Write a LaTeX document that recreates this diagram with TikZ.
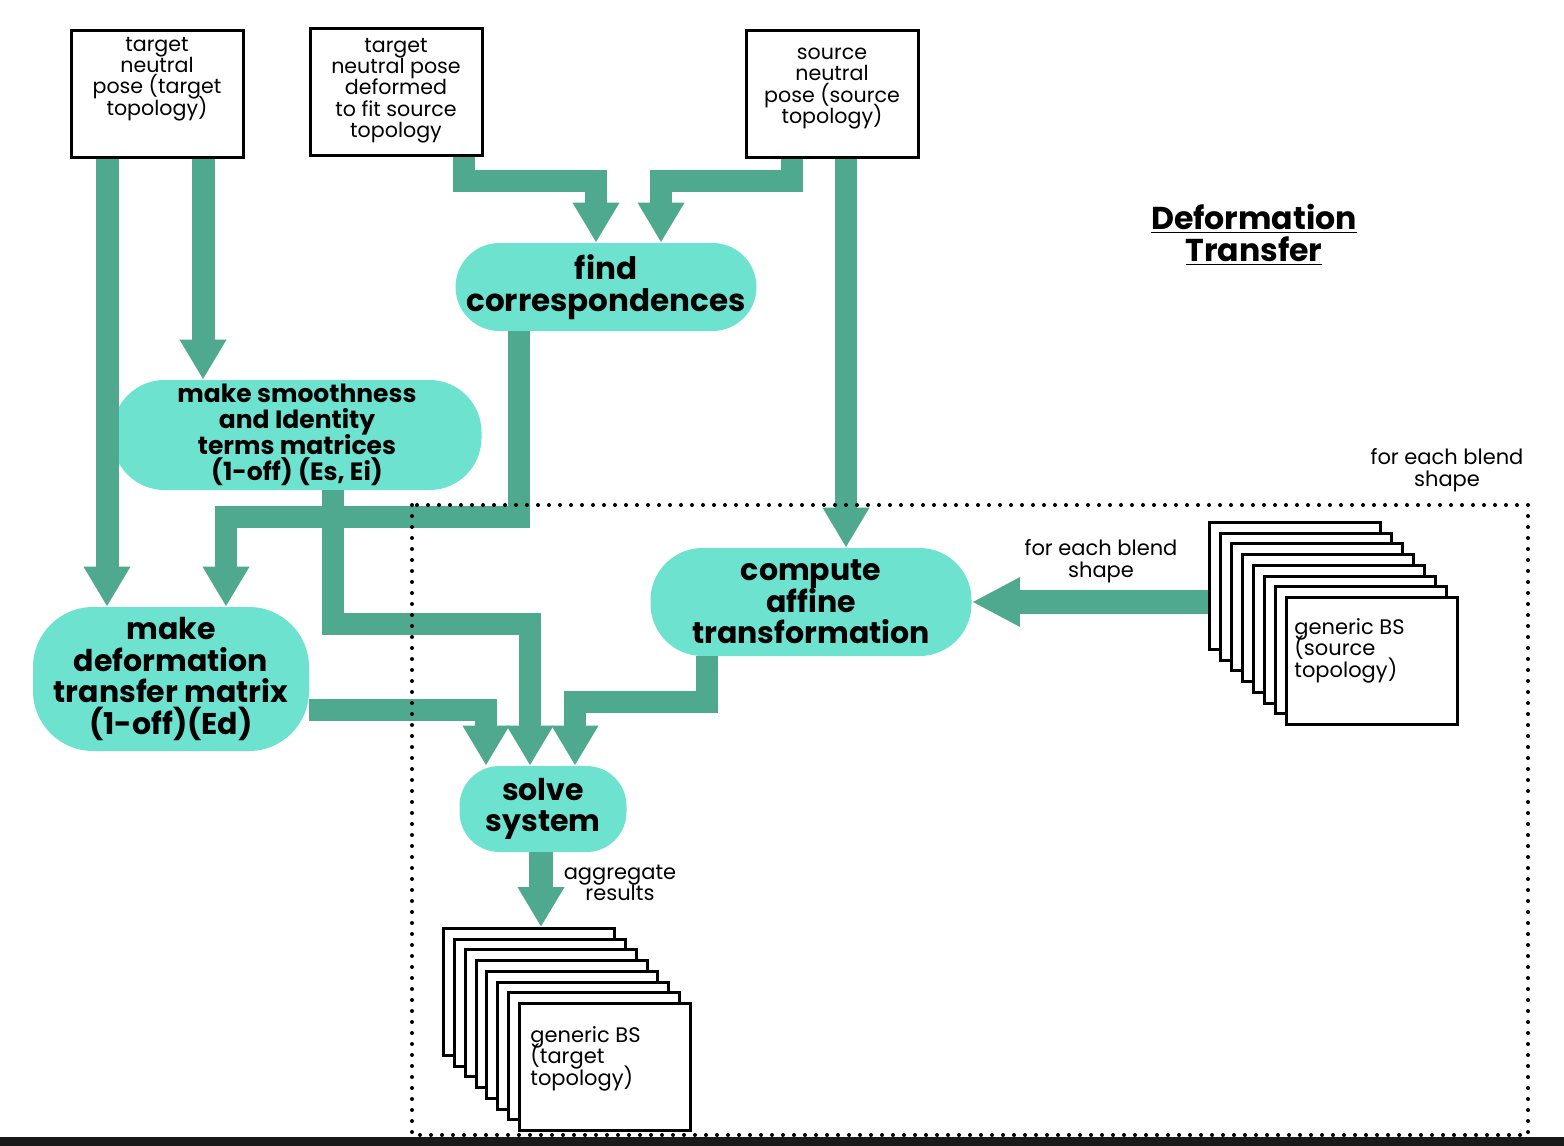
\documentclass[tikz,border=0pt]{standalone}
\usepackage{fontspec}
\setmainfont{Poppins}
\usetikzlibrary{positioning,arrows.meta}
\definecolor{flowgreen}{HTML}{4EA98F}
\definecolor{taskfill}{HTML}{6DE3CF}
\definecolor{barcolor}{HTML}{1A1A1A}
\lineskiplimit=-20pt
\newcommand{\posetext}[2]{\parbox[c][57pt][t]{82pt}{\lineskiplimit=-20pt\centering\vspace*{#1}#2}}
\tikzset{
	pose/.style={
		draw,
		line width=1.5pt,
		inner sep=2pt,
		minimum width=86pt,
		minimum height=63.5pt,
		font=\fontsize{10.3}{10.7}\selectfont
	},
	task/.style={
		fill=taskfill,
		rounded corners=22pt,
		align=center,
		inner sep=0pt,
		font=\fontsize{15}{15.7}\selectfont\bfseries
	},
	flow/.style={
		draw=flowgreen,
		line width=11pt,
		-{Triangle[length=20pt,width=22pt]}
	},
	bs/.style={draw, fill=white, line width=1.5pt, minimum width=85.5pt, minimum height=63.5pt},
	note/.style={align=center, inner sep=0pt, font=\fontsize{10.5}{10.8}\selectfont},
	blendloop/.style={draw, line width=2pt, line cap=round, dash pattern=on 0pt off 5.5pt}
}
\begin{document}
\begin{tikzpicture}[x=0.5pt, y=-0.5pt]
	\useasboundingbox (0,0) rectangle (1564,1146);
	\node [pose] (tnp) at (157,94) {\posetext{0pt}{target\\neutral\\pose (target\\topology)}};
	\node [pose] (tnd) at (396,92) {\posetext{1.5pt}{target\\neutral pose\\deformed\\to fit source\\topology}};
	\node [pose] (snp) at (832,94) {\posetext{5.5pt}{source\\neutral\\pose (source\\topology)}};
	\node [task, minimum width=150.5pt, minimum height=44pt, font=\fontsize{15.5}{16}\selectfont\bfseries] (find) at (606,287) {find\\correspondences};
	\node [task, minimum width=184.5pt, minimum height=55pt, rounded corners=26pt, font=\fontsize{12.5}{13}\selectfont\bfseries] (smooth) at (297,435) {make smoothness\\and Identity\\terms matrices\\(1-off) (Es, Ei)};
	\node [task, minimum width=138pt, minimum height=72pt, rounded corners=30pt] (dtm) at (171,679) {make\\deformation\\transfer matrix\\(1-off)(Ed)};
	\node [task, minimum width=160.5pt, minimum height=54pt, rounded corners=26pt] (aff) at (811,602) {compute\\affine\\transformation};
	\node [task, minimum width=83.5pt, minimum height=43pt, rounded corners=20pt] (solve) at (543,809) {solve\\system};
	\node [task, fill=none, font=\fontsize{15.8}{16}\selectfont\bfseries] (title) at (1254,235) {\underline{Deformation}\\\underline{Transfer}};
	\foreach \i in {0,...,7}
		\node [bs] (src\i) at (1295+11*\i,586+10.7*\i) {};
	\node [note, align=left, anchor=north west] (srctext) at ([xshift=4.5pt,yshift=-11pt]src7.north west) {generic BS\\(source\\topology)};
	\foreach \i in {0,...,7}
		\node [bs] (tgt\i) at (529+10.85*\i,992+10.7*\i) {};
	\node [note, align=left, anchor=north west] (tgttext) at ([xshift=6pt,yshift=-12pt]tgt7.north west) {generic BS\\(target\\topology)};
	\node [note] (loopnote) at (1447,470) {for each blend\\shape};
	\node [note] (blendnote) at (1101,561) {for each blend\\shape};
	\node [note] (aggnote) at (620,883) {aggregate\\results};
	\draw [flow, line width=11.5pt] ([xshift=-25pt]tnp.south) -- ([xshift=-25pt]tnp.south |- dtm.north);
	\draw [flow, line width=11.5pt] ([xshift=23pt]tnp.south) -- ([xshift=23pt]tnp.south |- smooth.north);
	\draw [flow] ([xshift=34pt]tnd.south) -- ++(0,24) -| ([xshift=-5pt]find.north);
	\draw [flow] ([xshift=-20pt]snp.south) -- ++(0,22) -| ([xshift=27.5pt]find.north);
	\draw [flow] ([xshift=7pt]snp.south) -- ([xshift=7pt]snp.south |- aff.north);
	\draw [flow] ([xshift=-43.5pt]find.south) -- ++(0,186) -| ([xshift=27.5pt]dtm.north);
	\draw [flow] ([xshift=18pt]smooth.south) -- ++(0,134) -| ([xshift=-6.5pt]solve.north);
	\draw [flow] ([yshift=-15.5pt]dtm.east) -| ([xshift=-28.5pt]solve.north);
	\draw [flow] ([xshift=-52pt]aff.south) -- ++(0,46) -| ([xshift=16pt]solve.north);
	\draw [flow, line width=12pt, -{Triangle[length=24pt,width=23pt]}] (aff.east -| src0.west) -- (aff.east);
	\draw [flow, line width=12pt] ([xshift=-1pt]solve.south) -- ([xshift=-1pt]solve.south |- tgt0.north);
	\draw [blendloop] (412,505) rectangle (1528,1135);
	\fill [barcolor] (0,1137) rectangle (1564,1146);
\end{tikzpicture}
\end{document}
